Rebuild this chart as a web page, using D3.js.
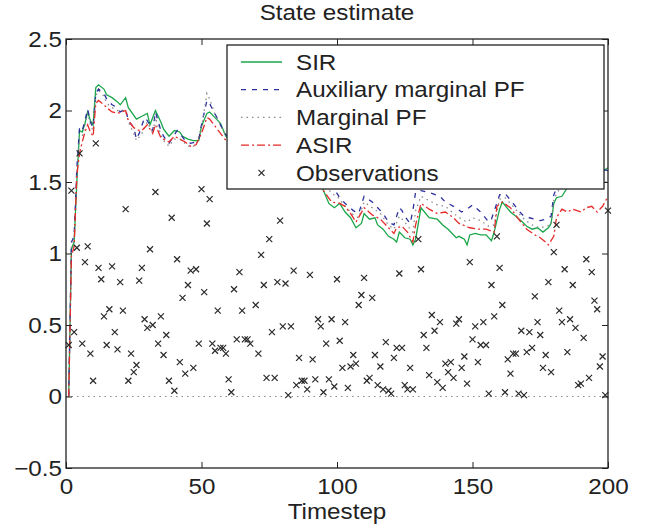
<!DOCTYPE html>
<html>
<head>
<meta charset="utf-8">
<script src="https://cdn.jsdelivr.net/npm/d3@7"></script>
<style>
  body { margin: 0; background: #fff; }
  text { font-family: "Liberation Sans", Arial, Helvetica, sans-serif; fill: #222; }
</style>
</head>
<body>
<div class="chart"></div>
<script>
// axis ticks
const xTicks = [0, 50, 100, 150, 200];
const yTicks = [-0.5, 0, 0.5, 1, 1.5, 2, 2.5];

// SIR (green solid)
const sirT = [1, 2, 3, 4, 5, 6, 7, 8, 9, 10, 11, 12, 14, 15, 17, 19, 20, 22, 23, 26, 28, 30, 31, 33, 35, 36, 38, 40, 42, 43, 45, 47, 49, 50, 52, 53, 55, 57, 59, 62, 66, 70, 75, 80, 85, 90, 93, 95, 97, 99, 101, 103, 105, 107, 109, 110, 112, 114, 115, 117, 119, 121, 122, 123, 125, 127, 128, 129, 131, 134, 137, 139, 141, 144, 145, 147, 148, 149, 151, 153, 155, 157, 158, 160, 161, 164, 166, 169, 170, 172, 174, 176, 178, 179, 180, 181, 183, 185, 186, 188, 192, 196, 200];
const sirV = [0, 1.03, 1.08, 1.5, 1.86, 1.85, 1.91, 1.99, 1.93, 1.9, 2.16, 2.18, 2.15, 2.11, 2.09, 2.06, 2.04, 2.09, 2.02, 1.94, 1.96, 1.98, 1.9, 2.0, 1.92, 1.87, 1.82, 1.86, 1.85, 1.82, 1.8, 1.79, 1.79, 1.89, 1.98, 1.99, 1.95, 1.91, 1.82, 1.78, 1.85, 1.8, 1.72, 1.75, 1.65, 1.58, 1.52, 1.44, 1.35, 1.32, 1.35, 1.29, 1.25, 1.18, 1.21, 1.28, 1.24, 1.25, 1.2, 1.17, 1.12, 1.1, 1.08, 1.15, 1.11, 1.1, 1.06, 1.1, 1.32, 1.25, 1.24, 1.2, 1.17, 1.11, 1.12, 1.1, 1.06, 1.13, 1.14, 1.13, 1.13, 1.09, 1.15, 1.31, 1.36, 1.29, 1.26, 1.21, 1.19, 1.17, 1.18, 1.15, 1.18, 1.21, 1.35, 1.39, 1.4, 1.46, 1.47, 1.55, 1.58, 1.55, 1.6];

// Auxiliary marginal PF (blue dashed)
const auxT = [1, 2, 3, 4, 5, 6, 7, 8, 9, 10, 11, 12, 14, 15, 17, 18, 20, 22, 23, 25, 26, 27, 29, 30, 32, 33, 35, 36, 38, 40, 41, 42, 44, 46, 48, 49, 50, 52, 53, 54, 56, 58, 59, 62, 66, 70, 75, 80, 85, 90, 95, 98, 100, 101, 103, 106, 108, 110, 113, 115, 117, 119, 121, 123, 124, 125, 127, 128, 129, 131, 135, 138, 140, 143, 146, 148, 150, 153, 156, 157, 160, 162, 165, 167, 169, 171, 173, 175, 177, 179, 180, 182, 185, 190, 195, 200];
const auxV = [0, 1.08, 1.12, 1.6, 1.88, 1.86, 1.93, 2.01, 1.92, 1.88, 2.12, 2.15, 2.12, 2.08, 2.04, 2.03, 1.99, 2.01, 1.93, 1.88, 1.8, 1.84, 1.95, 1.93, 1.86, 1.99, 1.86, 1.82, 1.77, 1.83, 1.86, 1.84, 1.79, 1.77, 1.78, 1.8, 1.9, 2.07, 2.05, 2.01, 1.94, 1.86, 1.83, 1.8, 1.87, 1.82, 1.76, 1.78, 1.7, 1.63, 1.55, 1.48, 1.42, 1.39, 1.35, 1.3, 1.28, 1.4, 1.36, 1.32, 1.28, 1.22, 1.2, 1.32, 1.3, 1.26, 1.21, 1.3, 1.43, 1.44, 1.42, 1.4, 1.36, 1.33, 1.29, 1.31, 1.34, 1.29, 1.22, 1.24, 1.41, 1.42, 1.35, 1.3, 1.26, 1.25, 1.24, 1.23, 1.24, 1.26, 1.41, 1.5, 1.55, 1.62, 1.6, 1.58];

// Marginal PF (grey dotted)
const margT = [1, 2, 3, 4, 5, 6, 7, 8, 9, 10, 11, 12, 14, 15, 17, 19, 22, 23, 25, 26, 28, 30, 32, 33, 35, 36, 38, 40, 42, 44, 46, 48, 50, 52, 53, 55, 57, 59, 62, 66, 70, 75, 80, 85, 90, 95, 98, 100, 103, 106, 108, 110, 113, 116, 119, 121, 123, 125, 127, 128, 129, 131, 134, 137, 140, 143, 146, 148, 150, 153, 156, 158, 160, 162, 165, 168, 171, 173, 175, 177, 179, 180, 182, 185, 190, 195, 200];
const margV = [0, 1.05, 1.1, 1.58, 1.82, 1.82, 1.9, 1.98, 1.9, 1.86, 2.1, 2.14, 2.1, 2.05, 2.02, 2.0, 2.0, 1.92, 1.84, 1.79, 1.84, 1.92, 1.84, 1.95, 1.83, 1.79, 1.75, 1.8, 1.8, 1.77, 1.74, 1.76, 1.88, 2.12, 2.08, 1.97, 1.9, 1.82, 1.78, 1.85, 1.8, 1.73, 1.75, 1.66, 1.6, 1.5, 1.42, 1.4, 1.33, 1.27, 1.25, 1.36, 1.32, 1.28, 1.2, 1.17, 1.26, 1.22, 1.17, 1.15, 1.3, 1.4, 1.37, 1.34, 1.33, 1.28, 1.24, 1.22, 1.25, 1.23, 1.19, 1.2, 1.38, 1.39, 1.33, 1.26, 1.21, 1.19, 1.18, 1.19, 1.2, 1.38, 1.45, 1.47, 1.5, 1.5, 1.5];

// ASIR (red dash-dot)
const asirT = [1, 2, 3, 4, 5, 6, 7, 8, 9, 10, 11, 12, 14, 15, 17, 19, 22, 23, 25, 27, 28, 30, 32, 33, 35, 36, 38, 40, 42, 44, 46, 48, 50, 52, 53, 55, 57, 59, 62, 66, 70, 75, 80, 85, 90, 93, 95, 98, 101, 103, 105, 107, 110, 113, 116, 119, 121, 122, 124, 126, 128, 129, 131, 134, 137, 140, 143, 145, 149, 152, 155, 158, 159, 161, 164, 167, 170, 173, 175, 177, 178, 180, 181, 183, 185, 187, 190, 192, 194, 196, 198, 200];
const asirV = [0, 0.98, 1.05, 1.55, 1.7, 1.78, 1.85, 1.9, 1.85, 1.82, 2.05, 2.07, 2.04, 2.02, 1.99, 1.98, 2.0, 1.93, 1.88, 1.86, 1.86, 1.9, 1.84, 1.9, 1.81, 1.8, 1.78, 1.82, 1.8, 1.78, 1.75, 1.76, 1.84, 1.95, 1.94, 1.89, 1.84, 1.79, 1.75, 1.82, 1.77, 1.7, 1.72, 1.62, 1.55, 1.5, 1.44, 1.36, 1.35, 1.33, 1.28, 1.22, 1.32, 1.27, 1.24, 1.18, 1.14, 1.18, 1.19, 1.15, 1.08, 1.2, 1.35, 1.31, 1.28, 1.29, 1.25, 1.21, 1.18, 1.17, 1.17, 1.15, 1.33, 1.36, 1.32, 1.24, 1.17, 1.13, 1.11, 1.08, 1.06, 1.12, 1.25, 1.31, 1.29, 1.31, 1.29, 1.32, 1.33, 1.29, 1.33, 1.4];

// Observations (x markers)
const obsT = [1, 2, 3, 4, 5, 6, 7, 8, 9, 10, 11, 12, 13, 14, 15, 16, 17, 18, 19, 20, 21, 22, 23, 24, 25, 26, 27, 28, 29, 30, 31, 32, 33, 34, 35, 36, 37, 38, 39, 40, 41, 42, 43, 44, 45, 46, 47, 48, 49, 50, 51, 52, 53, 54, 55, 56, 57, 58, 59, 60, 61, 62, 63, 64, 65, 66, 67, 68, 70, 71, 72, 73, 74, 75, 76, 77, 78, 79, 80, 81, 82, 83, 84, 85, 86, 87, 88, 89, 90, 91, 92, 93, 94, 95, 96, 97, 98, 99, 100, 101, 102, 103, 104, 105, 106, 107, 108, 109, 110, 111, 112, 113, 114, 115, 116, 117, 118, 119, 120, 121, 122, 123, 124, 125, 126, 127, 128, 130, 131, 132, 133, 134, 135, 136, 137, 138, 139, 140, 141, 142, 143, 144, 145, 146, 147, 148, 149, 150, 151, 152, 153, 154, 155, 156, 157, 158, 159, 160, 161, 162, 163, 164, 165, 166, 167, 168, 169, 170, 171, 172, 173, 174, 175, 176, 177, 178, 179, 180, 181, 182, 183, 184, 185, 186, 187, 188, 189, 190, 191, 192, 193, 194, 195, 196, 197, 198, 199, 200];
const obsV = [0.36, 1.44, 0.45, 1.04, 1.7, 0.37, 0.94, 1.05, 0.3, 0.11, 1.77, 0.9, 0.82, 0.56, 0.36, 0.61, 0.91, 0.45, 0.33, 0.8, 0.6, 1.31, 0.11, 0.3, 0.17, 0.22, 0.81, 0.9, 0.54, 0.48, 1.03, 0.5, 1.43, 0.37, 0.56, 0.29, 0.43, 0.11, 1.25, 0.04, 0.96, 0.24, 0.69, 0.16, 0.78, 0.88, 0.2, 0.89, 0.37, 1.45, 0.73, 1.21, 1.38, 0.37, 0.32, 0.6, 0.34, 0.34, 0.3, 0.12, 0.03, 0.75, 0.4, 0.87, 0.6, 0.4, 0.4, 0.37, 0.64, 0.3, 0.99, 0.78, 0.13, 1.1, 0.45, 0.13, 0.8, 1.23, 0.49, 0.79, 0.01, 0.49, 0.88, 0.08, 0.27, 0.11, 0.11, 0.05, 0.85, 0.26, 0.12, 0.54, 0.49, 0.03, 0.37, 0.12, 0.54, 0.07, 0.82, 0.39, 0.2, 0.52, 0.06, 0.21, 0.29, 0.23, 0.64, 0.71, 0.83, 0.11, 0.13, 0.69, 0.29, 0.08, 0.21, 0.05, 0.38, 0.04, 0.02, 0.27, 0.34, 0.86, 0.34, 0.08, 0.05, 0.2, 0.05, 1.1, 0.89, 0.43, 0.34, 0.15, 0.57, 0.46, 0.1, 0.52, 0.06, 0.23, 0.17, 0.24, 0.13, 0.51, 0.54, 0.2, 0.28, 0.09, 0.94, 0.4, 0.49, 0.24, 0.36, 0.52, 0.36, 0.02, 0.78, 0.56, 1.12, 0.9, 0.64, 0.03, 0.26, 0.16, 0.3, 0.3, 0.02, 0.46, 0.01, 0.31, 0.45, 0.34, 0.7, 0.52, 0.43, 0.2, 0.29, 0.8, 0.17, 1.01, 1.2, 0.6, 0.52, 0.89, 0.31, 0.54, 0.78, 0.48, 0.08, 0.09, 0.41, 0.96, 0.13, 0.87, 0.67, 0.61, 0.21, 0.28, 0.01, 1.3];

// dotted reference line at zero
const refT = [0, 200];
const refV = [0, 0];

const legendNames = ["SIR", "Auxiliary marginal PF", "Marginal PF", "ASIR", "Observations"];

const margin = { top: 39, right: 58, bottom: 60, left: 66 };
const width = 666 - margin.left - margin.right;
const height = 528 - margin.top - margin.bottom;

const xScale = d3.scaleLinear().domain([0, 200]).range([0, width]);
const yScale = d3.scaleLinear().domain([-0.5, 2.5]).range([height, 0]);

const svg = d3
  .select(".chart")
  .append("svg")
  .attr("width", 666)
  .attr("height", 528)
  .append("g")
  .attr("transform", "translate(" + margin.left + "," + margin.top + ")");

const series = [
  { t: sirT, v: sirV, color: "#1aa64a", dash: null },
  { t: auxT, v: auxV, color: "#2b2f9c", dash: "5,6" },
  { t: margT, v: margV, color: "#8a8a8a", dash: "1.5,4" },
  { t: asirT, v: asirV, color: "#e62a2a", dash: "8,3,2,3" },
];

const line = d3
  .line()
  .x((d) => xScale(d[0]))
  .y((d) => yScale(d[1]));

svg
  .append("path")
  .datum(refT.map((t, i) => [t, refV[i]]))
  .attr("d", line)
  .attr("fill", "none")
  .attr("stroke", "#8a8a8a")
  .attr("stroke-width", 1.2)
  .attr("stroke-dasharray", "1.5,4");

series.forEach(function (s) {
  svg
    .append("path")
    .datum(s.t.map((t, i) => [t, s.v[i]]))
    .attr("d", line)
    .attr("fill", "none")
    .attr("stroke", s.color)
    .attr("stroke-width", 1.3)
    .attr("stroke-dasharray", s.dash);
});

function cross(g, cx, cy, r) {
  g.append("path")
    .attr("d", `M${cx - r},${cy - r}L${cx + r},${cy + r}M${cx - r},${cy + r}L${cx + r},${cy - r}`)
    .attr("stroke", "#2a2a2a")
    .attr("stroke-width", 1.2)
    .attr("fill", "none");
}

const obsG = svg.append("g");
obsT.forEach(function (t, i) {
  cross(obsG, xScale(t), yScale(obsV[i]), 3);
});

// axes, ticks inside on all four sides
const fmt = d3.format("~g");
function styleAxis(g) {
  g.select(".domain").remove();
  g.selectAll("text").style("font-size", "22px").attr("fill", "#222");
  g.selectAll(".tick line").attr("stroke", "#222");
}

svg
  .append("g")
  .attr("transform", "translate(0," + height + ")")
  .call(d3.axisBottom(xScale).tickValues(xTicks).tickFormat(fmt).tickSize(-6).tickPadding(10))
  .call(styleAxis);
svg
  .append("g")
  .call(d3.axisTop(xScale).tickValues(xTicks).tickFormat("").tickSize(-6))
  .call(styleAxis);
svg
  .append("g")
  .call(d3.axisLeft(yScale).tickValues(yTicks).tickFormat(fmt).tickSize(-6).tickPadding(4))
  .call(styleAxis);
svg
  .append("g")
  .attr("transform", "translate(" + width + ",0)")
  .call(d3.axisRight(yScale).tickValues(yTicks).tickFormat("").tickSize(-6))
  .call(styleAxis);

svg
  .append("rect")
  .attr("width", width)
  .attr("height", height)
  .attr("fill", "none")
  .attr("stroke", "#222")
  .attr("stroke-width", 1.3);

// legend
const legend = svg.append("g").attr("transform", "translate(161,6)");
legend
  .append("rect")
  .attr("width", 377)
  .attr("height", 144)
  .attr("fill", "#fff")
  .attr("stroke", "#222")
  .attr("stroke-width", 1.3);

legendNames.forEach(function (name, i) {
  const y = 17 + i * 27.7;
  if (i < 4) {
    legend
      .append("line")
      .attr("x1", 14)
      .attr("x2", 55)
      .attr("y1", y)
      .attr("y2", y)
      .attr("stroke", series[i].color)
      .attr("stroke-width", 1.3)
      .attr("stroke-dasharray", series[i].dash);
  } else {
    cross(legend, 34.5, y, 3);
  }
  legend
    .append("text")
    .attr("x", 69)
    .attr("y", y)
    .attr("dy", "0.35em")
    .style("font-size", "22px")
    .text(name);
});

svg
  .append("text")
  .attr("x", width / 2)
  .attr("y", -19)
  .attr("text-anchor", "middle")
  .style("font-size", "22px")
  .text("State estimate");

svg
  .append("text")
  .attr("x", width / 2)
  .attr("y", height + 51)
  .attr("text-anchor", "middle")
  .style("font-size", "22px")
  .text("Timestep");

// the original lettering is a little wider than Liberation Sans
d3.selectAll("text").each(function () {
  const w = this.getComputedTextLength();
  if (w > 0) {
    d3.select(this).attr("textLength", w * 1.1).attr("lengthAdjust", "spacingAndGlyphs");
  }
});
</script>
</body>
</html>
